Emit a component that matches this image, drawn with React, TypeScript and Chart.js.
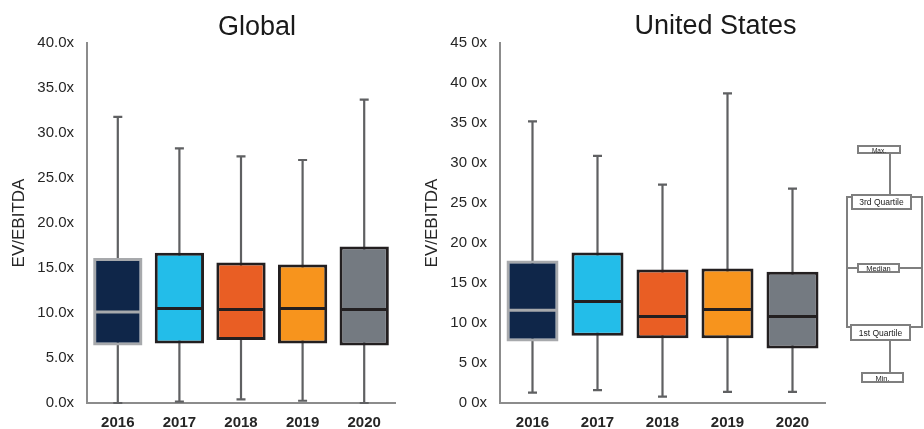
import React, { useEffect, useRef } from 'react';
import { Chart, registerables } from 'chart.js';

Chart.register(...registerables);
Chart.defaults.font.family = "'Liberation Sans', Arial, sans-serif";

const categories = ['2016', '2017', '2018', '2019', '2020'];

const globalMin = [0, 0.15, 0.4, 0.25, 0];
const globalQ1 = [6.4, 6.6, 7.0, 6.6, 6.4];
const globalMedian = [10.1, 10.5, 10.4, 10.5, 10.4];
const globalQ3 = [16.1, 16.7, 15.6, 15.4, 17.4];
const globalMax = [31.8, 28.3, 27.4, 27.0, 33.7];
const globalTickLabels = ['0.0x', '5.0x', '10.0x', '15.0x', '20.0x', '25.0x', '30.0x', '35.0x', '40.0x'];

const usMin = [1.3, 1.6, 0.8, 1.4, 1.4];
const usQ1 = [7.7, 8.4, 8.1, 8.1, 6.8];
const usMedian = [11.6, 12.7, 10.8, 11.7, 10.8];
const usQ3 = [17.8, 18.8, 16.7, 16.8, 16.4];
const usMax = [35.2, 30.9, 27.3, 38.7, 26.8];
const usTickLabels = ['0 0x', '5 0x', '10 0x', '15 0x', '20 0x', '25 0x', '30 0x', '35 0x', '40 0x', '45 0x'];

const boxColors = ['#0f2649', '#23bde9', '#e95e24', '#f7941d', '#747a81'];
const boxBorderColors = ['#a7a9ac', '#231f20', '#231f20', '#231f20', '#231f20'];
const medianColors = ['#a7a9ac', '#231f20', '#231f20', '#231f20', '#231f20'];

const AXIS_COLOR = '#8c8c8c';
const TEXT_COLOR = '#262626';

function makeBoxPlugin(mins: number[], maxs: number[], medians: number[]) {
  return {
    id: 'boxWhiskers',
    beforeDatasetsDraw(chart: any) {
      const { ctx } = chart;
      const xs = chart.scales.x;
      const ys = chart.scales.y;
      ctx.save();
      ctx.strokeStyle = '#5f6062';
      ctx.lineWidth = 2.2;
      mins.forEach((mn, i) => {
        const px = xs.getPixelForValue(i);
        const y1 = ys.getPixelForValue(mn);
        const y2 = ys.getPixelForValue(maxs[i]);
        ctx.beginPath();
        ctx.moveTo(px, y1);
        ctx.lineTo(px, y2);
        ctx.moveTo(px - 4.5, y2);
        ctx.lineTo(px + 4.5, y2);
        ctx.moveTo(px - 4.5, y1);
        ctx.lineTo(px + 4.5, y1);
        ctx.stroke();
      });
      ctx.restore();
    },
    afterDatasetsDraw(chart: any) {
      const { ctx } = chart;
      const ys = chart.scales.y;
      const meta = chart.getDatasetMeta(0);
      ctx.save();
      ctx.lineWidth = 3;
      meta.data.forEach((bar: any, i: number) => {
        const { x, width } = bar.getProps(['x', 'width'], true);
        const py = ys.getPixelForValue(medians[i]);
        ctx.strokeStyle = medianColors[i];
        ctx.beginPath();
        ctx.moveTo(x - width / 2 + 1, py);
        ctx.lineTo(x + width / 2 - 1, py);
        ctx.stroke();
      });
      ctx.restore();
    },
  };
}

type BoxProps = {
  left: number;
  rightPad: number;
  mins: number[];
  q1: number[];
  medians: number[];
  q3: number[];
  maxs: number[];
  tickLabels: string[];
  yMax: number;
};

function BoxChart(props: BoxProps) {
  const ref = useRef<HTMLCanvasElement | null>(null);
  useEffect(() => {
    if (!ref.current) return;
    const { mins, q1, medians, q3, maxs, tickLabels, yMax, rightPad } = props;
    const chart = new Chart(ref.current, {
      type: 'bar',
      data: {
        labels: categories,
        datasets: [
          {
            data: q1.map((v, i) => [v, q3[i]]) as any,
            backgroundColor: boxColors,
            borderColor: boxBorderColors,
            borderWidth: 3,
            borderSkipped: false,
            barPercentage: 0.8,
            categoryPercentage: 1,
          },
        ],
      },
      options: {
        responsive: false,
        animation: false,
        layout: { padding: { left: 0, top: 43, right: rightPad, bottom: 0 } },
        plugins: {
          legend: { display: false },
          tooltip: { enabled: false },
          title: { display: false },
        },
        scales: {
          x: {
            grid: { display: false, drawTicks: false },
            border: { display: true, color: AXIS_COLOR, width: 2 },
            ticks: {
              color: TEXT_COLOR,
              font: { size: 15, weight: 'bold' },
              padding: 11,
            },
            afterFit: (s: any) => {
              s.height = 26;
            },
          },
          y: {
            min: 0,
            max: yMax,
            grid: { display: false, drawTicks: false },
            border: { display: true, color: AXIS_COLOR, width: 2 },
            ticks: {
              stepSize: 5,
              color: TEXT_COLOR,
              font: { size: 15 },
              padding: 13,
              callback: (v: any) => tickLabels[Math.round(Number(v) / 5)] ?? '',
            },
            title: {
              display: true,
              text: 'EV/EBITDA',
              color: TEXT_COLOR,
              font: { size: 17 },
              padding: { top: 9, bottom: 0 },
            },
            afterFit: (s: any) => {
              s.width = 87;
            },
          },
        },
      } as any,
      plugins: [makeBoxPlugin(mins, maxs, medians)],
    });
    return () => chart.destroy();
  }, []);
  return (
    <canvas
      ref={ref}
      width={420}
      height={429}
      style={{ position: 'absolute', left: props.left, top: 0, width: 420, height: 429 }}
    />
  );
}

const legendStroke = '#7f7f7f';

function Legend() {
  const txt = { fontFamily: "'Liberation Sans', Arial, sans-serif", fill: '#1a1a1a' } as any;
  return (
    <svg
      width={924}
      height={429}
      style={{ position: 'absolute', left: 0, top: 0, pointerEvents: 'none' }}
    >
      <g fill="none" stroke={legendStroke} strokeWidth={2}>
        <line x1={890} y1={153} x2={890} y2={195} />
        <polyline points="852,197 847,197 847,327 851,327" />
        <polyline points="911,197 922,197 922,327 910,327" />
        <line x1={847} y1={268} x2={858} y2={268} />
        <line x1={899} y1={268} x2={922} y2={268} />
        <line x1={890} y1={340} x2={890} y2={373} />
      </g>
      <g fill="#ffffff" stroke={legendStroke} strokeWidth={2}>
        <rect x={858} y={146} width={42} height={7} />
        <rect x={852} y={195} width={59} height={14} />
        <rect x={858} y={264} width={41} height={8} />
        <rect x={851} y={325} width={59} height={15} />
        <rect x={862} y={373} width={41} height={9} />
      </g>
      <text x={879} y={152.5} fontSize={6.5} textAnchor="middle" {...txt}>Max.</text>
      <text x={881.5} y={205} fontSize={8.5} textAnchor="middle" {...txt}>3rd Quartile</text>
      <text x={878.5} y={270.5} fontSize={7.5} textAnchor="middle" {...txt}>Median</text>
      <text x={880.5} y={336} fontSize={8.5} textAnchor="middle" {...txt}>1st Quartile</text>
      <text x={882.5} y={380.5} fontSize={7.5} textAnchor="middle" {...txt}>Min.</text>
    </svg>
  );
}

const titleStyle: any = {
  position: 'absolute',
  width: 240,
  textAlign: 'center',
  fontFamily: "'Liberation Sans', Arial, sans-serif",
  fontSize: 27,
  lineHeight: '27px',
  color: '#1a1a1a',
};

export default function App() {
  return (
    <div
      style={{
        position: 'fixed',
        left: 0,
        top: 0,
        width: 924,
        height: 429,
        background: '#ffffff',
        overflow: 'hidden',
      }}
    >
      <BoxChart
        left={0}
        rightPad={25}
        mins={globalMin}
        q1={globalQ1}
        medians={globalMedian}
        q3={globalQ3}
        maxs={globalMax}
        tickLabels={globalTickLabels}
        yMax={40}
      />
      <BoxChart
        left={413}
        rightPad={8}
        mins={usMin}
        q1={usQ1}
        medians={usMedian}
        q3={usQ3}
        maxs={usMax}
        tickLabels={usTickLabels}
        yMax={45}
      />
      <div style={{ ...titleStyle, left: 137, top: 13 }}>Global</div>
      <div style={{ ...titleStyle, left: 595.5, top: 12 }}>United States</div>
      <Legend />
    </div>
  );
}
